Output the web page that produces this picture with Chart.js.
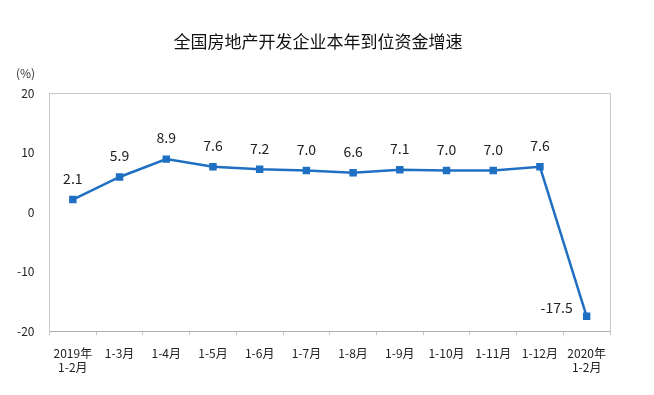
<!DOCTYPE html>
<html>
<head>
<meta charset="utf-8">
<script src="https://cdn.jsdelivr.net/npm/chart.js@4"></script>
<style>
  html, body { margin: 0; padding: 0; background: #fff; }
  #wrap { width: 654px; height: 395px; }
</style>
</head>
<body>
<div id="wrap"><canvas id="funds"></canvas></div>
<script>
// data
const title = "全国房地产开发企业本年到位资金增速";
const categories = [
  ["2019年", "1-2月"], "1-3月", "1-4月", "1-5月", "1-6月", "1-7月",
  "1-8月", "1-9月", "1-10月", "1-11月", "1-12月", ["2020年", "1-2月"]
];
const growth = [2.1, 5.9, 8.9, 7.6, 7.2, 7.0, 6.6, 7.1, 7.0, 7.0, 7.6, -17.5];
const yTicks = [-20, -10, 0, 10, 20];

const FONT = "'Noto Sans CJK SC', 'Noto Sans', sans-serif";
const BLUE = "#1f6fc2";

// title, value labels, unit label and plot frame
const extras = {
  id: "extras",
  afterDatasetsDraw(chart) {
    const ctx = chart.ctx;
    const area = chart.chartArea;
    ctx.save();
    ctx.strokeStyle = "#c8c8c8";
    ctx.lineWidth = 1;
    ctx.beginPath();
    ctx.moveTo(area.left, area.top + 0.5);
    ctx.lineTo(area.right + 0.5, area.top + 0.5);
    ctx.lineTo(area.right + 0.5, area.bottom);
    ctx.stroke();

    ctx.textAlign = "center";
    ctx.textBaseline = "middle";
    ctx.fillStyle = "#111";
    ctx.font = "17px " + FONT;
    ctx.fillText(title, 318, 42);

    ctx.fillStyle = "#222";
    ctx.font = "14px " + FONT;
    const pts = chart.getDatasetMeta(0).data;
    pts.forEach((p, i) => {
      const v = growth[i];
      if (v < 0) {
        ctx.fillText(v.toFixed(1), p.x - 30, p.y - 9);
      } else {
        ctx.fillText(v.toFixed(1), p.x, p.y - 21);
      }
    });

    ctx.font = "12px " + FONT;
    ctx.fillStyle = "#333";
    ctx.fillText("(%)", area.left - 24, area.top - 20);
    ctx.restore();
  }
};

new Chart(document.getElementById("funds"), {
  type: "line",
  data: {
    labels: categories,
    datasets: [
      {
        label: "增速",
        data: growth,
        borderColor: BLUE,
        backgroundColor: BLUE,
        borderWidth: 2.5,
        pointStyle: "rect",
        pointRadius: 3.5,
        pointHoverRadius: 3.5,
        tension: 0,
      },
    ],
  },
  options: {
    responsive: true,
    maintainAspectRatio: false,
    animation: false,
    layout: {
      padding: { left: 2, right: 44, top: 93, bottom: 9 },
    },
    plugins: {
      legend: { display: false },
      tooltip: { enabled: false },
      title: { display: false },
    },
    scales: {
      x: {
        offset: true,
        grid: {
          display: true,
          drawOnChartArea: false,
          drawTicks: true,
          tickLength: 4,
          offset: true,
          color: "#c8c8c8",
        },
        border: { color: "#b0b0b0" },
        ticks: {
          color: "#222",
          font: { family: FONT, size: 12 },
          maxRotation: 0,
          autoSkip: false,
          padding: 11,
        },
      },
      y: {
        min: -20,
        max: 20,
        afterBuildTicks(axis) {
          axis.ticks = yTicks.map(v => ({ value: v }));
        },
        grid: { display: false, drawTicks: false },
        border: { color: "#c8c8c8" },
        ticks: {
          color: "#222",
          font: { family: FONT, size: 12 },
          padding: 15,
        },
      },
    },
  },
  plugins: [extras],
});
</script>
</body>
</html>
